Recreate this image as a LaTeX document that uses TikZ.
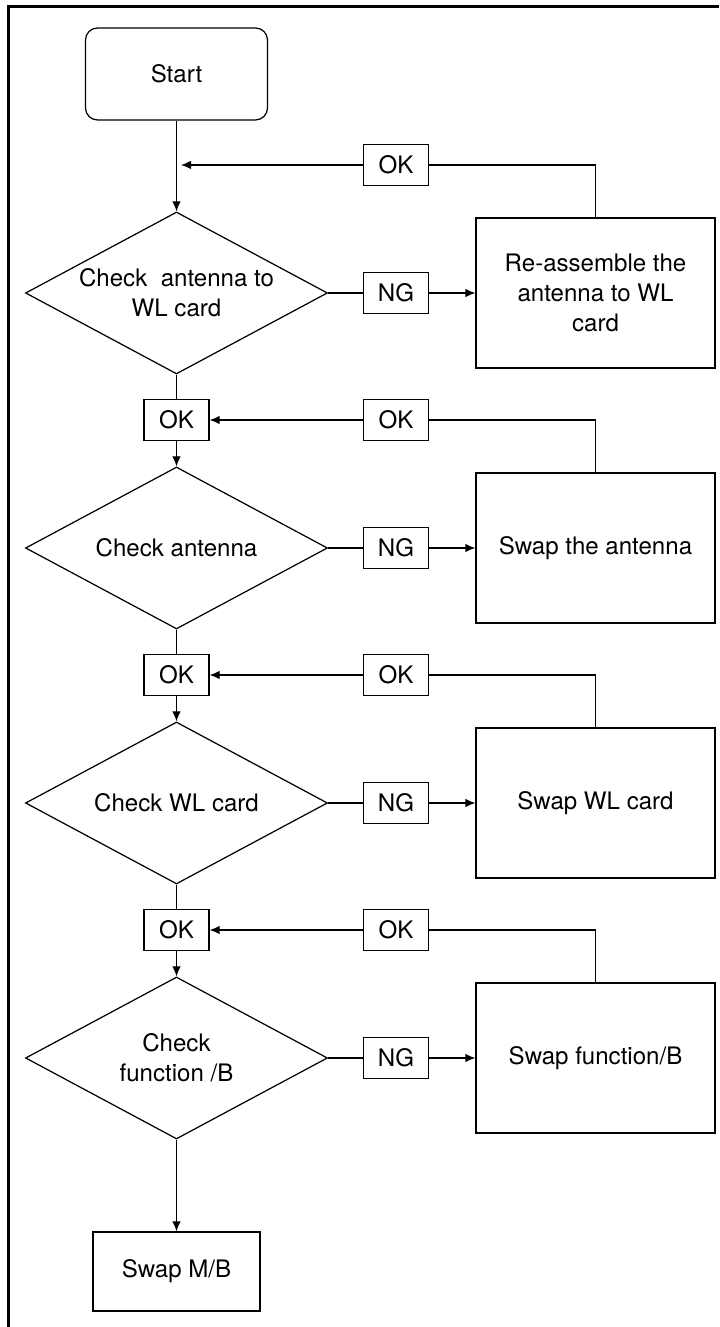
\documentclass[tikz,border=0pt]{standalone}
\usepackage{fontspec}
\setmainfont{TeX Gyre Heros}
\usetikzlibrary{arrows.meta,shapes.geometric}

\begin{document}
\begin{tikzpicture}[>={Latex[length=2mm,width=1.7mm]}, line width=0.7pt,
  every node/.style={font=\fontsize{13.7}{17}\selectfont, align=center},
  startbox/.style={draw, rounded corners=0.24cm, minimum width=3.64cm, minimum height=1.84cm},
  decision/.style={draw, diamond, shape aspect=1.86, minimum width=6.04cm, minimum height=3.24cm, inner sep=0pt},
  actbox/.style={draw, minimum width=4.78cm, minimum height=3.0cm},
  tagbox/.style={draw, minimum width=1.3cm, minimum height=0.82cm, inner sep=0pt}]
  \useasboundingbox (0,0) rectangle (14.38,26.54);
  \draw[line width=1.7pt] (0.17,0) -- (0.17,26.41) -- (14.38,26.41);

  \node[startbox] (start) at (3.53,25.06) {Start};
  \coordinate (j1) at (3.62,23.24);
  \node[tagbox] (ok1r) at (7.92,23.24) {OK};

  \node[decision] (d1) at (3.53,20.68) {Check\ \ antenna to\\WL card};
  \node[tagbox] (ng1) at (7.92,20.68) {NG};
  \node[actbox] (r1) at (11.91,20.68) {Re-assemble the\\antenna to WL\\card};

  \node[tagbox] (ok2l) at (3.53,18.14) {OK};
  \node[tagbox] (ok2r) at (7.92,18.14) {OK};
  \node[decision] (d2) at (3.53,15.58) {Check antenna};
  \node[tagbox] (ng2) at (7.92,15.58) {NG};
  \node[actbox] (r2) at (11.91,15.58) {Swap the antenna};

  \node[tagbox] (ok3l) at (3.53,13.04) {OK};
  \node[tagbox] (ok3r) at (7.92,13.04) {OK};
  \node[decision] (d3) at (3.53,10.48) {Check WL card};
  \node[tagbox] (ng3) at (7.92,10.48) {NG};
  \node[actbox] (r3) at (11.91,10.48) {Swap WL card};

  \node[tagbox] (ok4l) at (3.53,7.94) {OK};
  \node[tagbox] (ok4r) at (7.92,7.94) {OK};
  \node[decision] (d4) at (3.53,5.38) {Check\\function /B};
  \node[tagbox] (ng4) at (7.92,5.38) {NG};
  \node[actbox] (r4) at (11.91,5.38) {Swap function/B};

  \node[draw, minimum width=3.34cm, minimum height=1.58cm] (mb) at (3.53,1.11) {Swap M/B};

  \draw[->] (start) -- (d1);
  \draw (r1.north) |- (ok1r.east);
  \draw[->] (ok1r.west) -- (j1);
  \draw (d1.east) -- (ng1.west);
  \draw[->] (ng1.east) -- (r1.west);

  \draw (d1.south) -- (ok2l.north);
  \draw[->] (ok2l.south) -- (d2.north);
  \draw (r2.north) |- (ok2r.east);
  \draw[->] (ok2r.west) -- (ok2l.east);
  \draw (d2.east) -- (ng2.west);
  \draw[->] (ng2.east) -- (r2.west);

  \draw (d2.south) -- (ok3l.north);
  \draw[->] (ok3l.south) -- (d3.north);
  \draw (r3.north) |- (ok3r.east);
  \draw[->] (ok3r.west) -- (ok3l.east);
  \draw (d3.east) -- (ng3.west);
  \draw[->] (ng3.east) -- (r3.west);

  \draw (d3.south) -- (ok4l.north);
  \draw[->] (ok4l.south) -- (d4.north);
  \draw (r4.north) |- (ok4r.east);
  \draw[->] (ok4r.west) -- (ok4l.east);
  \draw (d4.east) -- (ng4.west);
  \draw[->] (ng4.east) -- (r4.west);

  \draw[->] (d4.south) -- (mb.north);
\end{tikzpicture}
\end{document}
